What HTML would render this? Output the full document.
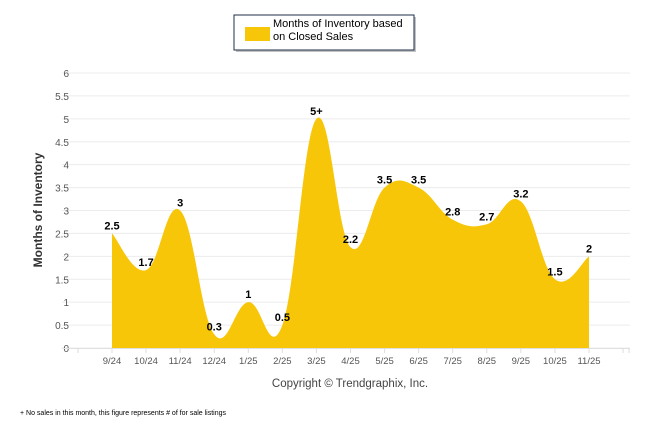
<!DOCTYPE html>
<html><head><meta charset="utf-8"><style>
body{margin:0;background:#fff;font-family:"Liberation Sans",sans-serif;}
svg text{font-family:"Liberation Sans",sans-serif;}
</style></head><body>
<svg id="chart" width="646" height="434" viewBox="0 0 646 434">
  <g>
    <rect x="236" y="17" width="180" height="35" fill="#888" opacity="0.5"/>
    <rect x="234" y="15" width="180" height="35" fill="#fff" stroke="#1f2d4a" stroke-width="1"/>
    <rect x="245" y="27" width="25" height="14" fill="#f7c608"/>
    <text x="273" y="27" font-size="11" fill="#000">Months of Inventory based</text>
    <text x="273" y="40" font-size="11" fill="#000">on Closed Sales</text>
  </g>
  <g id="grid"></g>
  <g id="yticks"></g>
  <path id="area" fill="#f7c608"/>
  <g id="xaxis"></g>
  <g id="labels"></g>
  <text x="42" y="210" font-size="12" font-weight="bold" fill="#333" text-anchor="middle" transform="rotate(-90 42 210)">Months of Inventory</text>
  <text x="350" y="387" font-size="11.5" fill="#444" text-anchor="middle">Copyright © Trendgraphix, Inc.</text>
  <text x="20" y="415" font-size="7" fill="#000">+  No sales in this month, this figure represents # of for sale listings</text>
</svg>
<script>
const categories=["9/24","10/24","11/24","12/24","1/25","2/25","3/25","4/25","5/25","6/25","7/25","8/25","9/25","10/25","11/25"];
const values=[2.5,1.7,3,0.3,1,0.5,5,2.2,3.5,3.5,2.8,2.7,3.2,1.5,2];
const valueLabels=["2.5","1.7","3","0.3","1","0.5","5+","2.2","3.5","3.5","2.8","2.7","3.2","1.5","2"];
const yTicks=[0,0.5,1,1.5,2,2.5,3,3.5,4,4.5,5,5.5,6];
const NS="http://www.w3.org/2000/svg";
const x0=112,x1=589,yBase=348,yTop=73,yMax=6;
const xs=i=>x0+(x1-x0)*i/(categories.length-1);
const ys=v=>yBase-(yBase-yTop)*v/yMax;
function mk(tag,attrs,parent,txt){const e=document.createElementNS(NS,tag);for(const k in attrs)e.setAttribute(k,attrs[k]);if(txt!==undefined)e.textContent=txt;parent.appendChild(e);return e;}
const grid=document.getElementById('grid'),yt=document.getElementById('yticks');
yTicks.forEach(t=>{
  const l=mk('line',{x1:62,x2:630,y1:ys(t),y2:ys(t),stroke:'#ececec','stroke-width':1},grid);
  
  
  const tx=mk('text',{x:69,y:ys(t)+4,'font-size':10,fill:'#555','text-anchor':'end'},yt,String(t));
  
  
});
const pts=values.map((v,i)=>[xs(i),ys(v)]);
let d=`M${pts[0][0]},${yBase} L${pts[0][0]},${pts[0][1]}`;
for(let i=0;i<pts.length-1;i++){
  const p0=pts[Math.max(0,i-1)],p1=pts[i],p2=pts[i+1],p3=pts[Math.min(pts.length-1,i+2)];
  const k=0.2;
  const c1=[p1[0]+(p2[0]-p0[0])*k,p1[1]+(p2[1]-p0[1])*k];
  const c2=[p2[0]-(p3[0]-p1[0])*k,p2[1]-(p3[1]-p1[1])*k];
  d+=` C${c1[0]},${c1[1]} ${c2[0]},${c2[1]} ${p2[0]},${p2[1]}`;
}
d+=` L${pts[pts.length-1][0]},${yBase} Z`;
document.getElementById('area').setAttribute('d',d);
const xa=document.getElementById('xaxis');
mk('line',{x1:62,x2:630,y1:yBase+0.5,y2:yBase+0.5,stroke:'#e0e0e0'},xa);
const step=(x1-x0)/(categories.length-1);
for(let i=-1;i<=categories.length;i++){const x=x0+step*i;if(x<62||x>631)continue;mk('line',{x1:x,x2:x,y1:yBase,y2:yBase+5,stroke:'#ddd'},xa);}
mk('line',{x1:78,x2:78,y1:yBase,y2:yBase+5,stroke:'#ddd'},xa);
mk('line',{x1:629,x2:629,y1:yBase,y2:yBase+5,stroke:'#ddd'},xa);
const lab=document.getElementById('labels');
categories.forEach((c,i)=>{
  const t=mk('text',{x:xs(i),y:364,'font-size':9.5,fill:'#555','text-anchor':'middle'},xa,c);
  
  
  const v=mk('text',{x:xs(i),y:ys(values[i])-4,'font-size':11,'font-weight':'bold',fill:'#000','text-anchor':'middle'},lab,valueLabels[i]);
  
  
});
</script>
</body></html>
